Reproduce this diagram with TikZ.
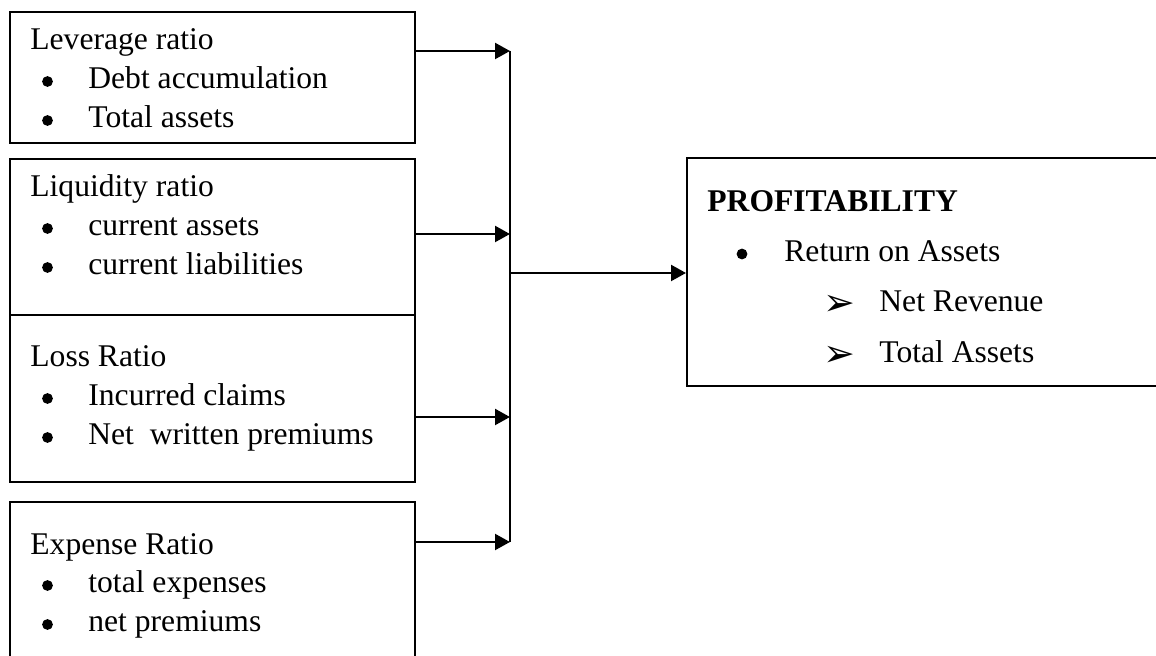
\documentclass[tikz,border=0pt]{standalone}
\usepackage{fontspec}
\setmainfont{Liberation Serif}
\newfontfamily\dingfont{DejaVu Sans}
\usepackage{tikz}
\usetikzlibrary{arrows.meta}

\begin{document}
\begin{tikzpicture}[x=0.5pt,y=-0.5pt,
  box/.style={draw, line width=1pt, inner sep=0pt, anchor=north west},
  txt/.style={inner sep=0pt, anchor=base west, font=\fontsize{15.8}{19}\selectfont},
  dot/.style={circle, fill, inner sep=0pt, minimum size=5.4pt},
  tip/.style={inner sep=0pt, anchor=center, font=\dingfont\fontsize{19}{22}\selectfont},
  arr/.style={line width=1.1pt, -{Triangle[length=7.5pt,width=8pt]}}]
\useasboundingbox (0,0) rectangle (1156,656);
\clip (0,0) rectangle (1156,656);
% left boxes
\node[box, minimum width=202.5pt, minimum height=65.5pt] (lev) at (9,11) {};
\node[box, minimum width=202.5pt, minimum height=78pt] (liq) at (9,158) {};
\node[box, minimum width=202.5pt, minimum height=83.5pt] (loss) at (9,314) {};
\node[box, minimum width=202.5pt, minimum height=89.5pt] (exp) at (9,501) {};
% right box
\node[box, minimum width=242pt, minimum height=114pt] (prof) at (686,157) {};

\node[txt] (levT) at (30,50) {Leverage ratio};
\node[dot] (levB1) at (47.5,81.5) {};
\node[txt] (levI1) at (88,89) {Debt accumulation};
\node[dot] (levB2) at (47.5,120.5) {};
\node[txt] (levI2) at (88,128) {Total assets};

\node[txt] (liqT) at (30,197) {Liquidity ratio};
\node[dot] (liqB1) at (47.5,228.5) {};
\node[txt] (liqI1) at (88,236) {current assets};
\node[dot] (liqB2) at (47.5,267.5) {};
\node[txt] (liqI2) at (88,275) {current liabilities};

\node[txt] (lossT) at (30,367) {Loss Ratio};
\node[dot] (lossB1) at (47.5,398.5) {};
\node[txt] (lossI1) at (88,406) {Incurred claims};
\node[dot] (lossB2) at (47.5,437.5) {};
\node[txt] (lossI2) at (88,445) {Net\ \ written premiums};

\node[txt] (expT) at (30,555) {Expense Ratio};
\node[dot] (expB1) at (47.5,585.5) {};
\node[txt] (expI1) at (88,593) {total expenses};
\node[dot] (expB2) at (47.5,624.5) {};
\node[txt] (expI2) at (88,632) {net premiums};

\node[txt] (profT) at (707,212) {\textbf{PROFITABILITY}};
\node[dot] (profB1) at (742,254) {};
\node[txt] (profI1) at (784,262) {Return on Assets};
\node[tip] (profA1) at (839,305.5) {➢};
\node[txt] (profI2) at (879,312) {Net Revenue};
\node[tip] (profA2) at (839,356.5) {➢};
\node[txt] (profI3) at (879,363) {Total Assets};

% connectors
\coordinate (b1) at (510,51);
\coordinate (b2) at (510,234);
\coordinate (b3) at (510,417);
\coordinate (b4) at (510,542);
\coordinate (bm) at (510,273);
\draw[arr] (lev.east |- b1) -- (b1);
\draw[arr] (liq.east |- b2) -- (b2);
\draw[arr] (loss.east |- b3) -- (b3);
\draw[arr] (exp.east |- b4) -- (b4);
\draw[line width=1pt] (b1) -- (b4);
\draw[arr] (bm) -- (prof.west |- bm);
\end{tikzpicture}
\end{document}
